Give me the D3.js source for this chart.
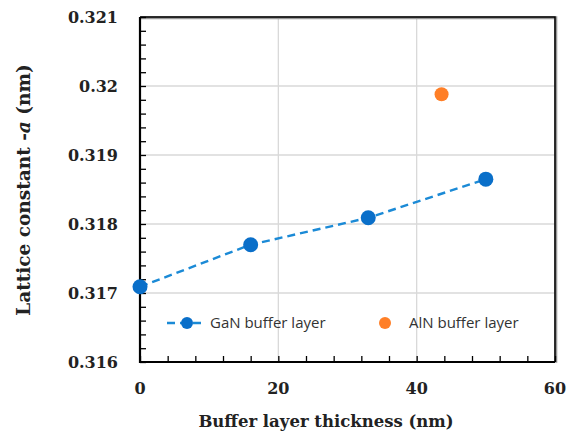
<!DOCTYPE html>
<html><head><meta charset="utf-8">
<script src="https://cdn.jsdelivr.net/npm/d3@7"></script>
<style>body{margin:0;background:#fff}</style>
</head><body>
<svg id="c" width="567" height="435"></svg>
<script>
const ganX = [0, 16, 33, 50];
const ganY = [0.31709, 0.31770, 0.31809, 0.31865];
const alnX = [43.6];
const alnY = [0.31988];
const xTicks = [0, 20, 40, 60];
const yTicks = [0.316, 0.317, 0.318, 0.319, 0.320, 0.321];
const yTickLabels = ["0.316", "0.317", "0.318", "0.319", "0.32", "0.321"];
const seriesNames = ["GaN buffer layer", "AlN buffer layer"];

const svg = d3.select("#c");
const L = 140, R = 555, T = 17, B = 362;
const x = d3.scaleLinear().domain([0, 60]).range([L, R]);
const y = d3.scaleLinear().domain([0.316, 0.321]).range([B, T]);
const blue = "#0a6fc9", lineBlue = "#1b8ad6", orange = "#ff7f27";
const serif = "'DejaVu Serif', serif";
const sans = "'Open Sans', sans-serif";

// grid
svg.append("g").selectAll("line.gx").data(xTicks.slice(1, -1)).join("line")
  .attr("x1", d => x(d)).attr("x2", d => x(d)).attr("y1", T).attr("y2", B)
  .attr("stroke", "#d9d9d9").attr("stroke-width", 1.3);
svg.append("g").selectAll("line.gy").data(yTicks.slice(1, -1)).join("line")
  .attr("x1", L).attr("x2", R).attr("y1", d => y(d)).attr("y2", d => y(d))
  .attr("stroke", "#d9d9d9").attr("stroke-width", 1.3);

// frame top/right
svg.append("path").attr("d", `M${L},${T}H${R}V${B}`).attr("fill", "none")
  .attr("stroke", "#999").attr("stroke-width", 3).attr("transform", "translate(0.8,0.8)");
svg.append("path").attr("d", `M${L},${T}H${R}V${B}`).attr("fill", "none")
  .attr("stroke", "#000").attr("stroke-width", 1.5);

// minor ticks (inside) via d3 axes
const yMinor = d3.range(0.316, 0.32101, 0.0002);
const xMinor = d3.range(0, 60.01, 4);
const yAxis = d3.axisRight(y).tickValues(yMinor).tickSize(6).tickFormat("");
const gy = svg.append("g").attr("transform", `translate(${L},0)`).call(yAxis);
gy.select(".domain").remove();
gy.selectAll(".tick line").attr("stroke", "#000").attr("stroke-width", 1.3);
const xAxis = d3.axisTop(x).tickValues(xMinor).tickSize(6).tickFormat("");
const gx = svg.append("g").attr("transform", `translate(0,${B})`).call(xAxis);
gx.select(".domain").remove();
gx.selectAll(".tick line").attr("stroke", "#000").attr("stroke-width", 1.3);

// axis lines
svg.append("path").attr("d", `M${L},${T}V${B}H${R}`).attr("fill", "none")
  .attr("stroke", "#000").attr("stroke-width", 2.2);

// tick labels
svg.append("g").selectAll("text").data(yTicks).join("text")
  .attr("x", L - 22).attr("y", d => y(d) + 6).attr("text-anchor", "end")
  .attr("font-family", serif).attr("font-weight", "bold").attr("font-size", 16)
  .attr("fill", "#222").text((d, i) => yTickLabels[i]);
svg.append("g").selectAll("text").data(xTicks).join("text")
  .attr("x", d => x(d)).attr("y", 394).attr("text-anchor", "middle")
  .attr("font-family", serif).attr("font-weight", "bold").attr("font-size", 16)
  .attr("fill", "#222").text(d => d);

// axis titles
svg.append("text").attr("x", 326).attr("y", 427).attr("text-anchor", "middle")
  .attr("font-family", serif).attr("font-weight", "bold").attr("font-size", 16.5)
  .attr("fill", "#222").text("Buffer layer thickness (nm)");
const yt = svg.append("text").attr("transform", "translate(30,190) rotate(-90)")
  .attr("text-anchor", "middle").attr("font-family", serif).attr("font-weight", "bold")
  .attr("font-size", 18.5).attr("fill", "#222");
yt.append("tspan").text("Lattice constant -");
yt.append("tspan").attr("font-style", "italic").text("a");
yt.append("tspan").text(" (nm)");

// series
const gan = ganX.map((d, i) => ({x: d, y: ganY[i]}));
const aln = alnX.map((d, i) => ({x: d, y: alnY[i]}));
svg.append("path").datum(gan)
  .attr("d", d3.line().x(d => x(d.x)).y(d => y(d.y)))
  .attr("fill", "none").attr("stroke", lineBlue).attr("stroke-width", 2.4)
  .attr("stroke-dasharray", "8,5");
svg.append("g").selectAll("circle").data(gan).join("circle")
  .attr("cx", d => x(d.x)).attr("cy", d => y(d.y)).attr("r", 7.5).attr("fill", blue);
svg.append("g").selectAll("circle").data(aln).join("circle")
  .attr("cx", d => x(d.x)).attr("cy", d => y(d.y)).attr("r", 7).attr("fill", orange);

// legend
const ly = 323;
svg.append("line").attr("x1", 167).attr("x2", 205).attr("y1", ly).attr("y2", ly)
  .attr("stroke", lineBlue).attr("stroke-width", 2.4).attr("stroke-dasharray", "8,5");
svg.append("circle").attr("cx", 187).attr("cy", ly).attr("r", 6).attr("fill", blue);
svg.append("text").attr("x", 210).attr("y", ly + 5).attr("font-family", sans)
  .attr("font-size", 15).attr("fill", "#333").text(seriesNames[0]);
svg.append("circle").attr("cx", 385).attr("cy", ly).attr("r", 6).attr("fill", orange);
svg.append("text").attr("x", 409).attr("y", ly + 5).attr("font-family", sans)
  .attr("font-size", 15).attr("fill", "#333").text(seriesNames[1]);
</script>
</body></html>
